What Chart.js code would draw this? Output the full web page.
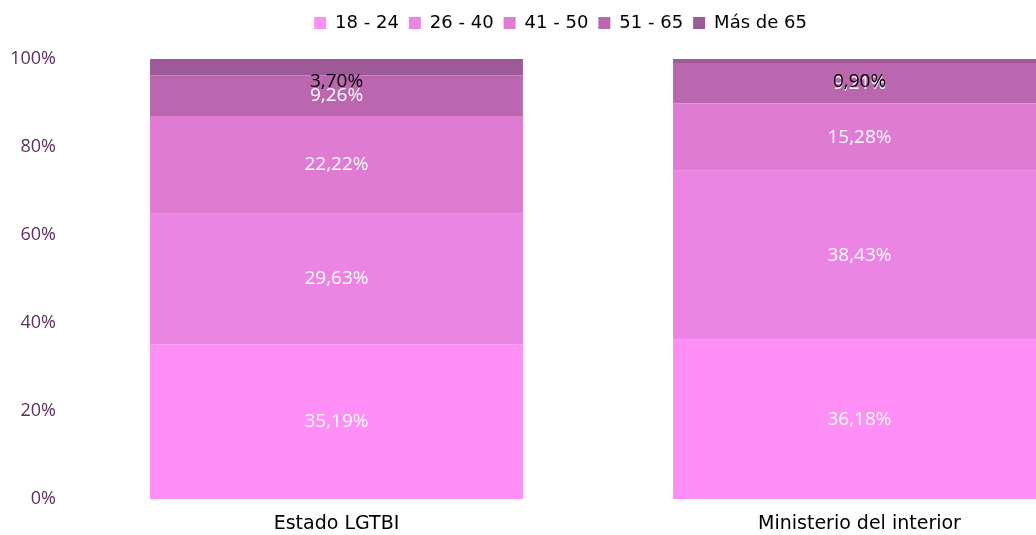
<!DOCTYPE html>
<html lang="es">
<head>
    <meta charset="UTF-8">
    <title>Edades</title>
    <script src="https://cdn.jsdelivr.net/npm/chart.js"></script>
    <style>
        html, body {
            margin: 0;
            padding: 0;
            background: #fff;
            overflow: hidden;
        }
        #wrap {
            width: 1250px;
            height: 535px;
        }
    </style>
</head>
<body>
    <div id="wrap"><canvas id="chart"></canvas></div>
    <script>
        const categories = ['Estado LGTBI', 'Ministerio del interior'];
        const groups = ['18 - 24', '26 - 40', '41 - 50', '51 - 65', 'Más de 65'];
        const values1824 = [35.19, 36.18];
        const values2640 = [29.63, 38.43];
        const values4150 = [22.22, 15.28];
        const values5165 = [9.26, 9.21];
        const valuesMas65 = [3.70, 0.90];
        const yTicks = [0, 20, 40, 60, 80, 100];

        const colors = ['#ff8ff6', '#ec84e4', '#df7bd3', '#ba67b0', '#9e5a96'];
        const series = [values1824, values2640, values4150, values5165, valuesMas65];

        // labels drawn on each segment (no datalabels plugin offline)
        const segmentLabels = {
            id: 'segmentLabels',
            afterDatasetsDraw(chart) {
                const ctx = chart.ctx;
                ctx.save();
                ctx.font = '19px "Open Sans", sans-serif';
                ctx.textAlign = 'center';
                ctx.textBaseline = 'middle';
                chart.data.datasets.forEach((ds, i) => {
                    const meta = chart.getDatasetMeta(i);
                    meta.data.forEach((bar, j) => {
                        const txt = ds.data[j].toFixed(2).replace('.', ',') + '%';
                        let y = (bar.y + bar.base) / 2;
                        if (i === series.length - 1) {
                            ctx.fillStyle = '#000';
                            y = bar.y + 23;
                        } else {
                            ctx.fillStyle = '#fff';
                        }
                        ctx.fillText(txt, bar.x, y);
                    });
                });
                ctx.restore();
            }
        };

        // fixed legend height
        const legendTweak = {
            id: 'legendTweak',
            beforeInit(chart) {
                const fit = chart.legend.fit;
                chart.legend.fit = function () {
                    fit.call(this);
                    this.height = 55;
                };
            }
        };

        new Chart(document.getElementById('chart'), {
            type: 'bar',
            data: {
                labels: categories,
                datasets: groups.map((g, i) => ({
                    label: g,
                    data: series[i],
                    backgroundColor: colors[i],
                    borderWidth: 0,
                    categoryPercentage: 0.713,
                    barPercentage: 1
                }))
            },
            options: {
                responsive: true,
                maintainAspectRatio: false,
                animation: false,
                layout: {
                    padding: { top: 4, right: 129, bottom: 0, left: 0 }
                },
                plugins: {
                    legend: {
                        position: 'top',
                        labels: {
                            color: '#000',
                            font: { family: '"DejaVu Sans", sans-serif', size: 18 },
                            boxWidth: 12,
                            boxHeight: 12,
                            padding: 10
                        }
                    },
                    tooltip: { enabled: false }
                },
                scales: {
                    x: {
                        stacked: true,
                        afterFit(scale) { scale.height = 36; },
                        grid: { display: false, drawTicks: false },
                        border: { display: false },
                        ticks: {
                            color: '#000',
                            font: { family: '"DejaVu Sans", sans-serif', size: 19 },
                            padding: 14
                        }
                    },
                    y: {
                        stacked: true,
                        min: 0,
                        max: 100,
                        afterFit(scale) { scale.width = 75; },
                        afterBuildTicks(scale) {
                            scale.ticks = yTicks.map(v => ({ value: v }));
                        },
                        grid: { display: false, drawTicks: false },
                        border: { display: false },
                        ticks: {
                            color: '#5c2f5c',
                            padding: 19,
                            font: { family: '"Open Sans", sans-serif', size: 18 },
                            callback: v => v + '%'
                        }
                    }
                }
            },
            plugins: [segmentLabels, legendTweak]
        });
    </script>
</body>
</html>
